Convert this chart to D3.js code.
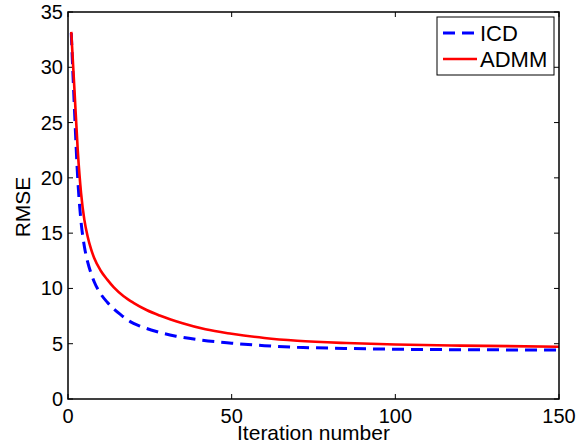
<!DOCTYPE html>
<html>
<head>
<meta charset="utf-8">
<script src="https://cdn.jsdelivr.net/npm/d3@7"></script>
<style>
  body { margin: 0; background: #fff; }
  text { font-family: "Liberation Sans", Arial, sans-serif; fill: #000; }
</style>
</head>
<body>
<div id="output"></div>
<script>
// values
const icdIter = [1, 2, 3, 4, 5, 6, 7, 8, 10, 12, 14, 16, 19, 22, 27, 33, 40, 50, 60, 70, 85, 100, 120, 150];
const icdRmse = [33.1, 26.0, 19.8, 16.0, 13.8, 12.4, 11.4, 10.6, 9.5, 8.75, 8.15, 7.65, 7.0, 6.6, 6.1, 5.68, 5.35, 5.05, 4.82, 4.68, 4.57, 4.5, 4.46, 4.43];
const admmIter = [1, 2, 3, 4, 5, 6, 7, 8, 10, 12, 14, 17, 20, 24, 28, 35, 42, 50, 60, 70, 85, 100, 120, 150];
const admmRmse = [33.2, 27.8, 22.4, 18.6, 16.2, 14.7, 13.6, 12.75, 11.6, 10.8, 10.1, 9.3, 8.7, 8.05, 7.55, 6.85, 6.3, 5.9, 5.52, 5.27, 5.06, 4.93, 4.83, 4.73];
const xTicks = [0, 50, 100, 150];
const yTicks = [0, 5, 10, 15, 20, 25, 30, 35];

function draw() {
    const W = 579, H = 446;
    const left = 68, right = 559, top = 12, bottom = 399;

    const svg = d3.select("#output").append("svg").attr("width", W).attr("height", H);

    const x = d3.scaleLinear().domain([0, 150]).range([left, right]);
    const y = d3.scaleLinear().domain([0, 35]).range([bottom, top]);

    // ticks drawn inward, on all four sides (matlab box)
    const tl = 5;
    const g = svg.append("g");
    for (let t of xTicks) {
        g.append("line").attr("x1", x(t)).attr("x2", x(t)).attr("y1", bottom).attr("y2", bottom - tl)
            .style("stroke", "#000").style("stroke-width", 1);
        g.append("line").attr("x1", x(t)).attr("x2", x(t)).attr("y1", top).attr("y2", top + tl)
            .style("stroke", "#000").style("stroke-width", 1);
        g.append("text").attr("x", x(t)).attr("y", 423)
            .style("font-size", "20px").style("text-anchor", "middle").text(t);
    }
    for (let t of yTicks) {
        g.append("line").attr("x1", left).attr("x2", left + tl).attr("y1", y(t)).attr("y2", y(t))
            .style("stroke", "#000").style("stroke-width", 1);
        g.append("line").attr("x1", right).attr("x2", right - tl).attr("y1", y(t)).attr("y2", y(t))
            .style("stroke", "#000").style("stroke-width", 1);
        g.append("text").attr("x", 63).attr("y", y(t) + 7)
            .style("font-size", "20px").style("text-anchor", "end").text(t);
    }

    const line = d3.line().x(d => x(d[0])).y(d => y(d[1])).curve(d3.curveMonotoneX);

    svg.append("path").datum(d3.zip(icdIter, icdRmse))
        .attr("d", line)
        .style("fill", "none").style("stroke", "#0000ff").style("stroke-width", 3)
        .style("stroke-dasharray", "12,7");

    svg.append("path").datum(d3.zip(admmIter, admmRmse))
        .attr("d", line)
        .style("fill", "none").style("stroke", "#ff0000").style("stroke-width", 2.6);

    // axes box
    svg.append("rect").attr("x", left).attr("y", top)
        .attr("width", right - left).attr("height", bottom - top)
        .style("fill", "none").style("stroke", "#000").style("stroke-width", 1.5);

    svg.append("text").attr("x", (left + right) / 2).attr("y", 440)
        .style("font-size", "21px").style("text-anchor", "middle").text("Iteration number");

    svg.append("text").attr("transform", "translate(30,207) rotate(-90)")
        .style("font-size", "21px").style("text-anchor", "middle").text("RMSE");

    // legend
    const lg = svg.append("g");
    lg.append("rect").attr("x", 437).attr("y", 17).attr("width", 117).attr("height", 58)
        .style("fill", "#fff").style("stroke", "#000").style("stroke-width", 1);
    const items = [
        { name: "ICD", color: "#0000ff", dash: "12,7", yy: 33 },
        { name: "ADMM", color: "#ff0000", dash: null, yy: 59 }
    ];
    for (let it of items) {
        lg.append("line").attr("x1", 443).attr("x2", 477).attr("y1", it.yy).attr("y2", it.yy)
            .style("stroke", it.color).style("stroke-width", it.dash ? 3 : 2.6)
            .style("stroke-dasharray", it.dash);
        lg.append("text").attr("x", 480).attr("y", it.yy + 8)
            .style("font-size", "22px").text(it.name);
    }
}

draw();
</script>
</body>
</html>
